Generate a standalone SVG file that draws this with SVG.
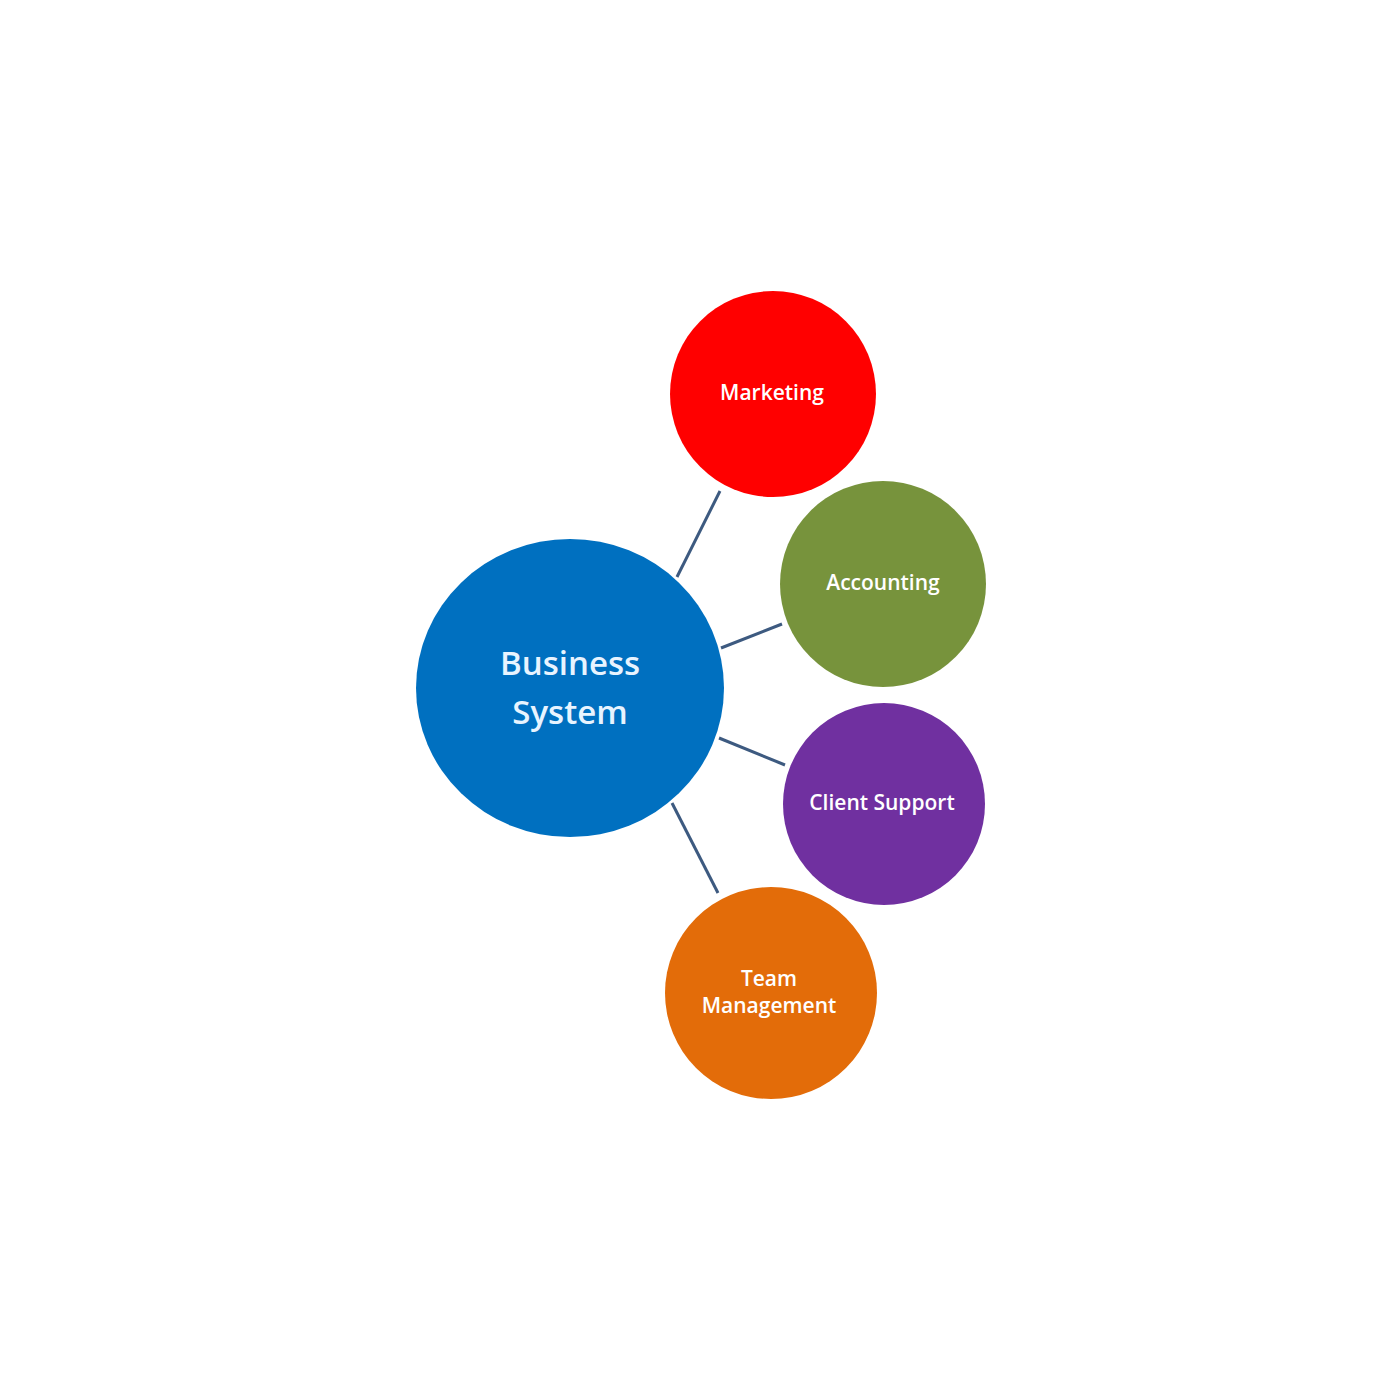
<svg xmlns="http://www.w3.org/2000/svg" width="1400" height="1400" viewBox="0 0 1400 1400">
<style>
.lbl{font-family:"Open Sans","Liberation Sans",sans-serif;fill:#ffffff;text-anchor:middle;font-weight:600}
.small{font-size:21px}
.big{font-size:33px;font-weight:600;fill:#e8f4ff}
.conn line{stroke:#3d5a80;stroke-width:3}
</style>
<rect width="1400" height="1400" fill="#ffffff"/>
<g id="connectors" class="conn">
<line x1="677" y1="577" x2="720" y2="491"/>
<line x1="721" y1="648" x2="782" y2="624"/>
<line x1="719" y1="738" x2="785" y2="765"/>
<line x1="672" y1="803" x2="718" y2="893"/>
</g>
<g id="business-system">
<ellipse cx="570" cy="688" rx="154" ry="149" fill="#0070c0"/>
<text class="lbl big" x="570" y="675">Business</text>
<text class="lbl big" x="570" y="724">System</text>
</g>
<g id="marketing">
<circle cx="773" cy="394" r="103" fill="#ff0000"/>
<text class="lbl small" x="772" y="400">Marketing</text>
</g>
<g id="accounting">
<circle cx="883" cy="584" r="103" fill="#77933c"/>
<text class="lbl small" x="883" y="590">Accounting</text>
</g>
<g id="client-support">
<circle cx="884" cy="804" r="101" fill="#7030a0"/>
<text class="lbl small" x="882" y="810">Client Support</text>
</g>
<g id="team-management">
<circle cx="771" cy="993" r="106" fill="#e36c09"/>
<text class="lbl small" x="769" y="986">Team</text>
<text class="lbl small" x="769" y="1013">Management</text>
</g>
</svg>
